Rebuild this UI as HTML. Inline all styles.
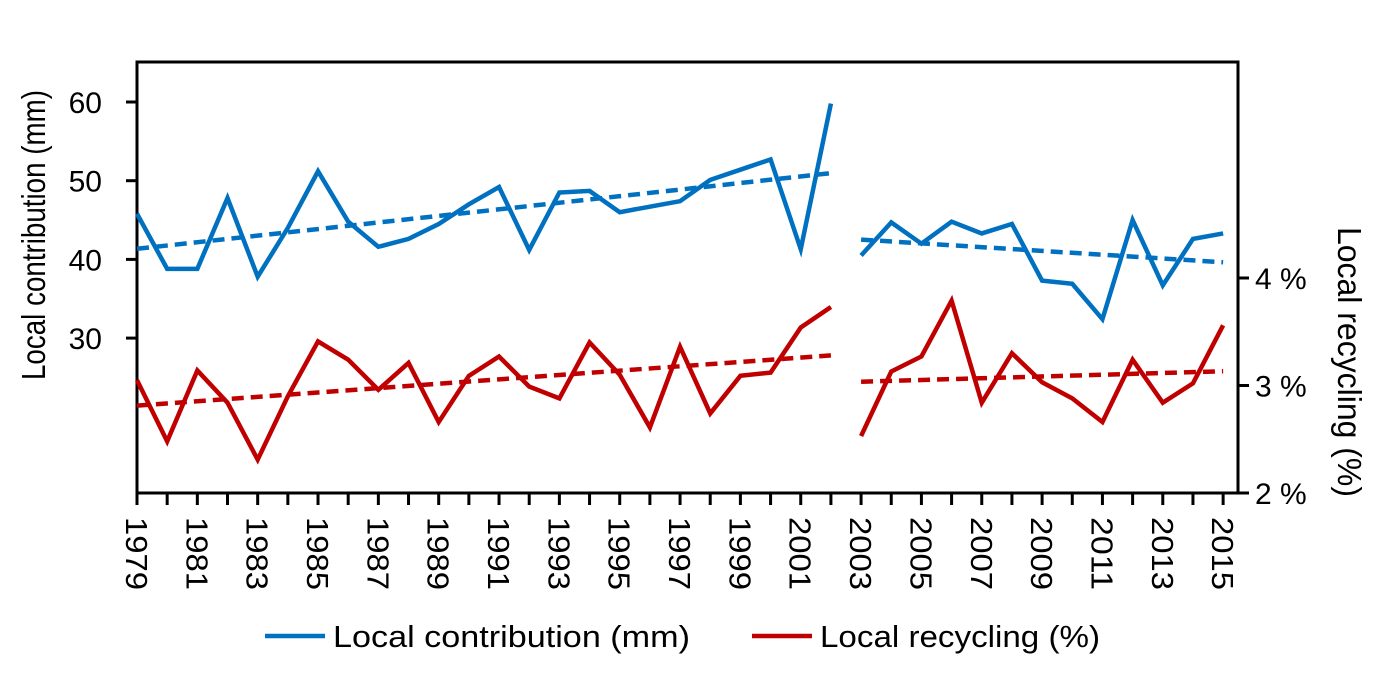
<!DOCTYPE html>
<html><head><meta charset="utf-8"><style>
body{margin:0;background:#fff;width:1384px;height:673px;overflow:hidden}
text{font-family:"Liberation Sans",sans-serif;fill:#000}
</style></head><body>
<svg id="chart" width="1384" height="673" xmlns="http://www.w3.org/2000/svg"></svg>
<script>
const years=[1979,1980,1981,1982,1983,1984,1985,1986,1987,1988,1989,1990,1991,1992,1993,1994,1995,1996,1997,1998,1999,2000,2001,2002,2003,2004,2005,2006,2007,2008,2009,2010,2011,2012,2013,2014,2015];
const contribution=[45.8,38.8,38.8,47.8,37.8,44,51.2,44.8,41.6,42.6,44.5,47,49.2,41.2,48.5,48.7,46,46.7,47.4,50.1,51.4,52.7,41.3,59.8,40.5,44.7,42,44.8,43.3,44.5,37.3,36.9,32.4,45,36.7,42.6,43.3];
const recycling=[3.05,2.48,3.14,2.84,2.31,2.9,3.41,3.24,2.96,3.21,2.66,3.09,3.27,2.99,2.88,3.40,3.1,2.61,3.36,2.74,3.09,3.12,3.54,3.73,2.53,3.13,3.27,3.79,2.84,3.3,3.03,2.88,2.66,3.24,2.84,3.02,3.56];
const leftTicks=[30,40,50,60];
const rightTicks=[2,3,4];
const splitYear=2003;

const svg=document.getElementById('chart');
const NS='http://www.w3.org/2000/svg';
const X0=137,X1=1238,Ytop=62,Ybot=493;
const x=y=>137+(y-1979)*30.17;
const yL=v=>102+(60-v)*7.87;
const yR=v=>278+(4-v)*107.5;
function el(t,a,p){const e=document.createElementNS(NS,t);for(const k in a)e.setAttribute(k,a[k]);(p||svg).appendChild(e);return e;}

let a=el('rect',{x:X0,y:Ytop,width:X1-X0,height:Ybot-Ytop,fill:'none',stroke:'#000','stroke-width':3});


years.forEach((yr,i)=>{
  const t=el('line',{x1:x(yr),y1:Ybot,x2:x(yr),y2:Ybot+12,stroke:'#000','stroke-width':3});
  
  
  if(i%2===0){
    const lb=el('text',{x:0,y:0,'font-size':31,textLength:73,lengthAdjust:'spacingAndGlyphs',transform:`translate(${x(yr)-11},517) rotate(90)`,'text-anchor':'start'});
    lb.textContent=yr;
    
    
  }
});
leftTicks.forEach(v=>{
  const t=el('line',{x1:X0-11,y1:yL(v),x2:X0,y2:yL(v),stroke:'#000','stroke-width':3});
  
  
  const lb=el('text',{x:102,y:yL(v)+11,'font-size':30,'text-anchor':'end'});
  lb.textContent=v;
  
  
});
rightTicks.forEach(v=>{
  const t=el('line',{x1:X1,y1:yR(v),x2:X1+11,y2:yR(v),stroke:'#000','stroke-width':3});
  
  
  const lb=el('text',{x:1255,y:yR(v)+11,'font-size':30});
  lb.textContent=v+' %';
  
  
});
let tt=el('text',{x:0,y:0,'font-size':33,'text-anchor':'middle',textLength:290,lengthAdjust:'spacingAndGlyphs',transform:'translate(45,235) rotate(-90)'});
tt.textContent='Local contribution  (mm)';


tt=el('text',{x:0,y:0,'font-size':33,'text-anchor':'middle',textLength:270,lengthAdjust:'spacingAndGlyphs',transform:'translate(1338,362) rotate(90)'});
tt.textContent='Local recycling  (%)';



function fit(xs,ys){const n=xs.length;const mx=xs.reduce((s,v)=>s+v,0)/n,my=ys.reduce((s,v)=>s+v,0)/n;let num=0,den=0;xs.forEach((v,i)=>{num+=(v-mx)*(ys[i]-my);den+=(v-mx)**2});const b=num/den;return [my-b*mx,b];}
function series(vals,yf,color,name){
  [[0,years.indexOf(splitYear)],[years.indexOf(splitYear),years.length]].forEach(([s,e],k)=>{
    const ys=years.slice(s,e),vs=vals.slice(s,e);
    const p=el('polyline',{points:ys.map((yr,i)=>x(yr)+','+yf(vs[i])).join(' '),fill:'none',stroke:color,'stroke-width':4.5});
    
    
    const [c,b]=fit(ys,vs);
    const x0=ys[0],x1=ys[ys.length-1];
    const tl=el('line',{x1:x(x0),y1:yf(c+b*x0),x2:x(x1),y2:yf(c+b*x1),stroke:color,'stroke-width':4.5,'stroke-dasharray':'12,7'});
    
    
  });
}
series(contribution,yL,'#0070c0','contribution');
series(recycling,yR,'#c00000','recycling');

let g=el('g',{});


el('line',{x1:265,y1:636,x2:325,y2:636,stroke:'#0070c0','stroke-width':4.5},g);
let lt=el('text',{x:333,y:647,'font-size':31,textLength:357,lengthAdjust:'spacingAndGlyphs'},g);lt.textContent='Local contribution (mm)';
g=el('g',{});


el('line',{x1:752,y1:636,x2:812,y2:636,stroke:'#c00000','stroke-width':4.5},g);
lt=el('text',{x:820,y:647,'font-size':31,textLength:280,lengthAdjust:'spacingAndGlyphs'},g);lt.textContent='Local recycling (%)';
</script>
</body></html>
